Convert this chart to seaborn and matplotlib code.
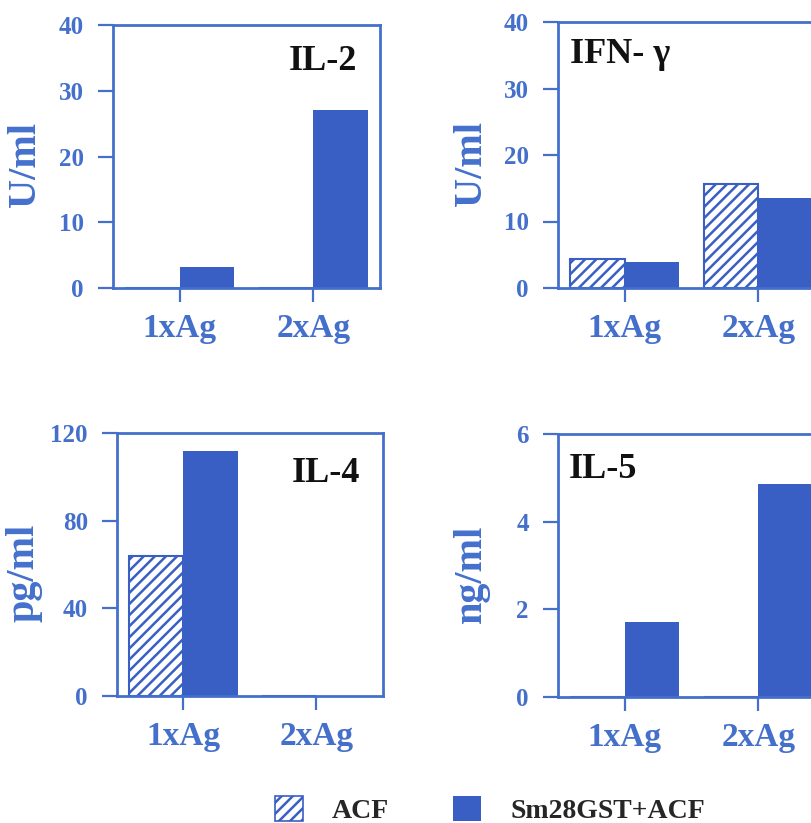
import matplotlib
matplotlib.use("Agg")
import matplotlib.pyplot as plt
from matplotlib.patches import Patch
import seaborn as sns
import pandas as pd

# ---- data ----
conditions = ["1xAg", "2xAg"]
groups = ["ACF", "Sm28GST+ACF"]
il2_acf = [0.0, 0.0]
il2_sm = [3.2, 27.0]
ifn_acf = [4.4, 15.6]
ifn_sm = [3.9, 13.5]
il4_acf = [64.0, 0.0]
il4_sm = [112.0, 0.0]
il5_acf = [0.0, 0.0]
il5_sm = [1.7, 4.85]

titles = ["IL-2", "IFN- \u03b3", "IL-4", "IL-5"]
ylabels = ["U/ml", "U/ml", "pg/ml", "ng/ml"]
yticks = [[0, 10, 20, 30, 40], [0, 10, 20, 30, 40], [0, 40, 80, 120], [0, 2, 4, 6]]

BAR = "#3a5fc4"
AX = "#4470cc"

sns.set_style("ticks")
plt.rcParams["font.family"] = ["Liberation Serif", "DejaVu Serif"]
plt.rcParams["font.weight"] = "bold"
plt.rcParams["hatch.color"] = BAR
plt.rcParams["hatch.linewidth"] = 1.8

fig = plt.figure(figsize=(8.12, 8.23), dpi=100)

W = 267 / 812
positions = [
    (113 / 812, 1 - 288 / 823, W, 263 / 823),
    (558 / 812, 1 - 288 / 823, W, 266 / 823),
    (117 / 812, 1 - 696 / 823, 266 / 812, 263 / 823),
    (558 / 812, 1 - 697 / 823, W, 263 / 823),
]
datasets = [(il2_acf, il2_sm), (ifn_acf, ifn_sm), (il4_acf, il4_sm), (il5_acf, il5_sm)]
title_pos = [(0.915, 0.925, "right"), (0.045, 0.94, "left"), (0.915, 0.91, "right"), (0.04, 0.928, "left")]
ylabel_x = [-0.26, -0.255, -0.28, -0.255]

for i, (pos, (acf, sm)) in enumerate(zip(positions, datasets)):
    ax = fig.add_axes(pos)
    df = pd.DataFrame({
        "condition": conditions * 2,
        "group": [groups[0]] * 2 + [groups[1]] * 2,
        "value": list(acf) + list(sm),
    })
    sns.barplot(data=df, x="condition", y="value", hue="group", hue_order=groups,
                order=conditions, palette=[BAR, BAR], saturation=1, width=0.82,
                legend=False, ax=ax, linewidth=0, errorbar=None)
    for p in ax.containers[0]:
        p.set_facecolor("white")
        p.set_edgecolor(BAR)
        p.set_hatch("///")
        p.set_linewidth(1.5)
    ax.set_xlim(-0.5, 1.5)
    ax.set_ylim(yticks[i][0], yticks[i][-1])
    ax.set_yticks(yticks[i])
    for s in ax.spines.values():
        s.set_visible(True)
        s.set_color(AX)
        s.set_linewidth(2.0)
    ax.tick_params(axis="y", length=11, width=1.6, color=AX, labelcolor=AX,
                   labelsize=18, pad=10, direction="out")
    ax.tick_params(axis="x", length=10, width=1.6, color=AX, labelcolor=AX,
                   labelsize=24, pad=8, direction="out")
    for lab in ax.get_xticklabels() + ax.get_yticklabels():
        lab.set_fontweight("bold")
    ax.set_xlabel("")
    ax.set_ylabel(ylabels[i], fontsize=29, fontweight="bold", color=AX)
    ax.yaxis.set_label_coords(ylabel_x[i], 0.47)
    tx, ty, ha = title_pos[i]
    ax.text(tx, ty, titles[i], transform=ax.transAxes, ha=ha, va="top",
            fontsize=26, fontweight="bold", color="#111111")

handles = [Patch(facecolor="white", edgecolor=BAR, linewidth=1.2, hatch="///"),
           Patch(facecolor=BAR, edgecolor=BAR, linewidth=0)]
fig.legend(handles, groups, loc="center left", bbox_to_anchor=(275 / 812, 1 - 810 / 823),
           frameon=False, ncol=2, prop={"weight": "bold", "size": 20},
           handlelength=1.0, handleheight=1.0, handletextpad=1.05, columnspacing=2.3,
           borderpad=0, borderaxespad=0)

fig.savefig("out.png", dpi=100)
